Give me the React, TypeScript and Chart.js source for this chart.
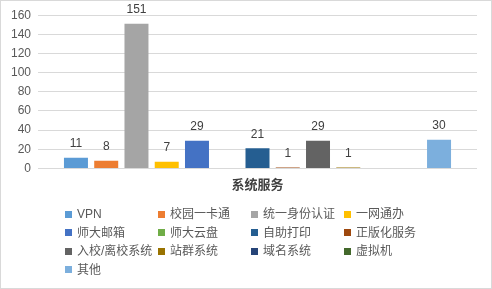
import React, { useEffect, useRef } from "react";
import { Chart, registerables } from "chart.js";

Chart.register(...registerables);

const categories = ["系统服务"];
const seriesNames = [
  "VPN", "校园一卡通", "统一身份认证", "一网通办",
  "师大邮箱", "师大云盘", "自助打印", "正版化服务",
  "入校/离校系统", "站群系统", "域名系统", "虚拟机", "其他",
];
const seriesValues = [11, 8, 151, 7, 29, 0, 21, 1, 29, 1, 0, 0, 30];
const seriesColors = [
  "#5B9BD5", "#ED7D31", "#A5A5A5", "#FFC000",
  "#4472C4", "#70AD47", "#255E91", "#9E480E",
  "#636363", "#997300", "#264478", "#43682B", "#7CAFDD",
];
const yTicks = [0, 20, 40, 60, 80, 100, 120, 140, 160];

const FONT = "'Liberation Sans', 'Noto Sans CJK SC', sans-serif";

const valueLabels = {
  id: "valueLabels",
  afterDatasetsDraw(chart: any) {
    const ctx = chart.ctx;
    ctx.save();
    ctx.font = `12px ${FONT}`;
    ctx.fillStyle = "#404040";
    ctx.textAlign = "center";
    ctx.textBaseline = "middle";
    chart.data.datasets.forEach((ds: any, i: number) => {
      const meta = chart.getDatasetMeta(i);
      meta.data.forEach((el: any, j: number) => {
        const v = ds.data[j];
        if (!v) return;
        ctx.fillText(String(v), el.x, el.y - 14);
      });
    });
    ctx.restore();
  },
};

export default function App() {
  const ref = useRef<HTMLCanvasElement>(null);
  useEffect(() => {
    const chart = new Chart(ref.current!, {
      type: "bar",
      data: {
        labels: categories,
        datasets: seriesNames.map((name, i) => ({
          label: name,
          data: [seriesValues[i]],
          backgroundColor: seriesColors[i],
          categoryPercentage: 0.896,
          barPercentage: 0.793,
        })),
      },
      options: {
        animation: false,
        responsive: false,
        layout: { padding: { left: 7, right: 14, top: 14, bottom: 8 } },
        plugins: { legend: { display: false }, tooltip: { enabled: false } },
        scales: {
          x: {
            grid: { display: false, drawTicks: false },
            border: { display: false },
            ticks: {
              padding: 9,
              color: "#404040",
              font: { family: FONT, size: 13, weight: "bold" },
            },
          },
          y: {
            min: 0,
            max: 160,
            afterFit: (s: any) => { s.width = 30; },
            afterBuildTicks: (s: any) => { s.ticks = yTicks.map((v) => ({ value: v })); },
            grid: { color: "#D9D9D9", drawTicks: false },
            border: { display: false },
            ticks: {
              padding: 7,
              color: "#595959",
              font: { family: FONT, size: 12 },
            },
          },
        },
      },
      plugins: [valueLabels],
    } as any);
    return () => chart.destroy();
  }, []);

  return (
    <div
      style={{
        position: "absolute",
        left: 0,
        top: 0,
        width: 492,
        height: 289,
        boxSizing: "border-box",
        border: "1px solid #D9D9D9",
        background: "#fff",
        fontFamily: FONT,
      }}
    >
      <canvas ref={ref} width={490} height={209} style={{ position: "absolute", left: 0, top: 0 }} />
      <div
        style={{
          position: "absolute",
          left: 64,
          top: 204,
          display: "grid",
          gridTemplateColumns: "93px 93px 93px 93px",
          gridAutoRows: "18.5px",
        }}
      >
        {seriesNames.map((name, i) => (
          <div key={name} style={{ display: "flex", alignItems: "center", whiteSpace: "nowrap" }}>
            <span style={{ width: 7, height: 7, background: seriesColors[i], marginRight: 5, flex: "none" }} />
            <span style={{ fontSize: 12, color: "#595959", lineHeight: "18.5px" }}>{name}</span>
          </div>
        ))}
      </div>
    </div>
  );
}
